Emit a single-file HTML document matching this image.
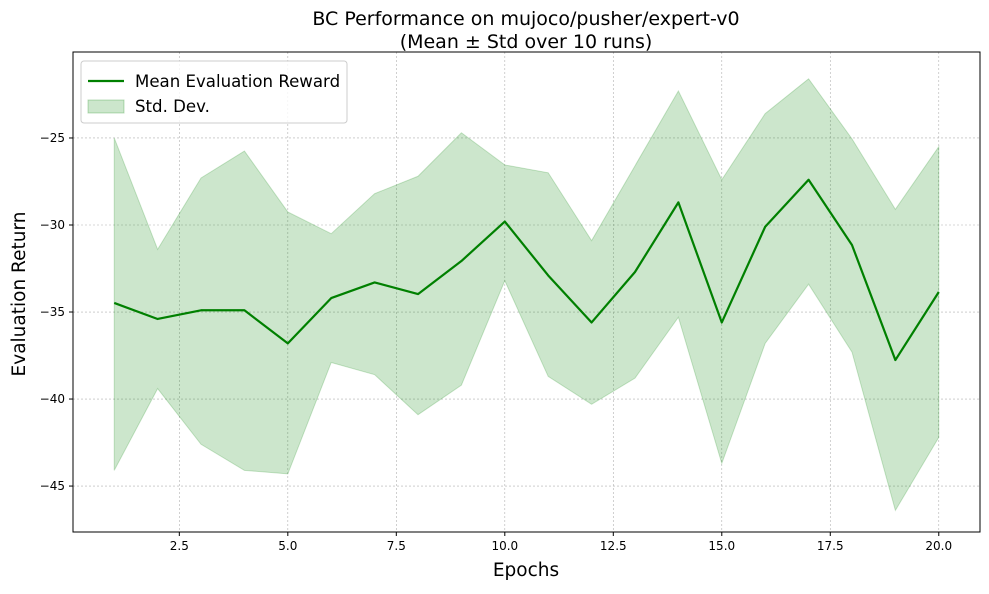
<!DOCTYPE html>
<html><head><meta charset="utf-8"><style>
body{margin:0;background:#fff;font-family:"DejaVu Sans","Liberation Sans",sans-serif}
svg text{font-family:"DejaVu Sans","Liberation Sans",sans-serif}
</style></head><body>
<svg id="chart" width="989" height="590" xmlns="http://www.w3.org/2000/svg"></svg>
<script>
const epochs=[1,2,3,4,5,6,7,8,9,10,11,12,13,14,15,16,17,18,19,20];
const meanVals=[-34.48,-35.4,-34.9,-34.9,-36.8,-34.2,-33.3,-33.97,-32.07,-29.8,-32.9,-35.6,-32.7,-28.7,-35.6,-30.1,-27.4,-31.15,-37.76,-33.85];
const upperVals=[-25,-31.4,-27.3,-25.75,-29.25,-30.5,-28.2,-27.2,-24.7,-26.55,-27.0,-30.9,-26.6,-22.3,-27.4,-23.6,-21.6,-25.05,-29.1,-25.5];
const lowerVals=[-44.1,-39.4,-42.6,-44.1,-44.3,-37.9,-38.6,-40.9,-39.2,-33.2,-38.7,-40.3,-38.8,-35.3,-43.7,-36.8,-33.4,-37.3,-46.4,-42.2];
const xTicks=[2.5,5.0,7.5,10.0,12.5,15.0,17.5,20.0];
const yTicks=[-25,-30,-35,-40,-45];

const L=73,R=980,T=52,B=532;
const xMin=0.05,xMax=20.95,yMin=-47.64,yMax=-20.06;
const sx=v=>L+(v-xMin)/(xMax-xMin)*(R-L);
const sy=v=>B-(v-yMin)/(yMax-yMin)*(B-T);
const svg=document.getElementById('chart');
const NS='http://www.w3.org/2000/svg';
function mk(tag,attrs,parent){const e=document.createElementNS(NS,tag);for(const k in attrs)e.setAttribute(k,attrs[k]);(parent||svg).appendChild(e);return e;}
function txt(s,attrs){const e=mk('text',attrs);e.textContent=s;return e;}

xTicks.forEach(v=>{
  const g=mk('line',{x1:sx(v),x2:sx(v),y1:T,y2:B,stroke:'#b0b0b0','stroke-width':0.6,'stroke-dasharray':'2,2'});
  
  
});
yTicks.forEach(v=>{
  const g=mk('line',{x1:L,x2:R,y1:sy(v),y2:sy(v),stroke:'#b0b0b0','stroke-width':0.6,'stroke-dasharray':'2,2'});
  
  
});

let d='';
epochs.forEach((e,i)=>{d+=(i?'L':'M')+sx(e)+','+sy(upperVals[i]);});
for(let i=epochs.length-1;i>=0;i--)d+='L'+sx(epochs[i])+','+sy(lowerVals[i]);
const band=mk('path',{d:d+'Z',fill:'rgba(0,128,0,0.2)',stroke:'rgba(0,128,0,0.2)','stroke-width':1});



const pts=epochs.map((e,i)=>sx(e)+','+sy(meanVals[i])).join(' ');
const line=mk('polyline',{points:pts,fill:'none',stroke:'#008000','stroke-width':2.2,'stroke-linejoin':'round'});



const fr=mk('rect',{x:L,y:T,width:R-L,height:B-T,fill:'none',stroke:'#000','stroke-width':1});



xTicks.forEach(v=>{
  mk('line',{x1:sx(v),x2:sx(v),y1:B,y2:B+4,stroke:'#000'});
  const t=txt(v.toFixed(1),{x:sx(v),y:B+18,'text-anchor':'middle','font-size':12});
  
  
});
yTicks.forEach(v=>{
  mk('line',{x1:L-4,x2:L,y1:sy(v),y2:sy(v),stroke:'#000'});
  const t=txt('\u2212'+Math.abs(v),{x:L-8,y:sy(v)+4,'text-anchor':'end','font-size':12});
  
  
});

const t1=txt('BC Performance on mujoco/pusher/expert-v0',{x:526,y:25,'text-anchor':'middle','font-size':19});


const t2=txt('(Mean \u00b1 Std over 10 runs)',{x:526,y:48,'text-anchor':'middle','font-size':19});


const xl=txt('Epochs',{x:526,y:576,'text-anchor':'middle','font-size':18.5});


const yl=txt('Evaluation Return',{x:25,y:294,'text-anchor':'middle','font-size':18.5,transform:'rotate(-90 25 294)'});



const lg=mk('rect',{x:81,y:61,width:266,height:62,rx:3,fill:'#fff','fill-opacity':0.8,stroke:'#ccc'});


mk('line',{x1:88,x2:124,y1:81,y2:81,stroke:'#008000','stroke-width':2.2});
const le1=txt('Mean Evaluation Reward',{x:135,y:87,'font-size':16.6});


mk('rect',{x:88,y:100,width:36,height:13,fill:'rgba(0,128,0,0.2)',stroke:'rgba(0,128,0,0.25)'});
const le2=txt('Std. Dev.',{x:135,y:112,'font-size':16.6});


</script>
</body></html>
